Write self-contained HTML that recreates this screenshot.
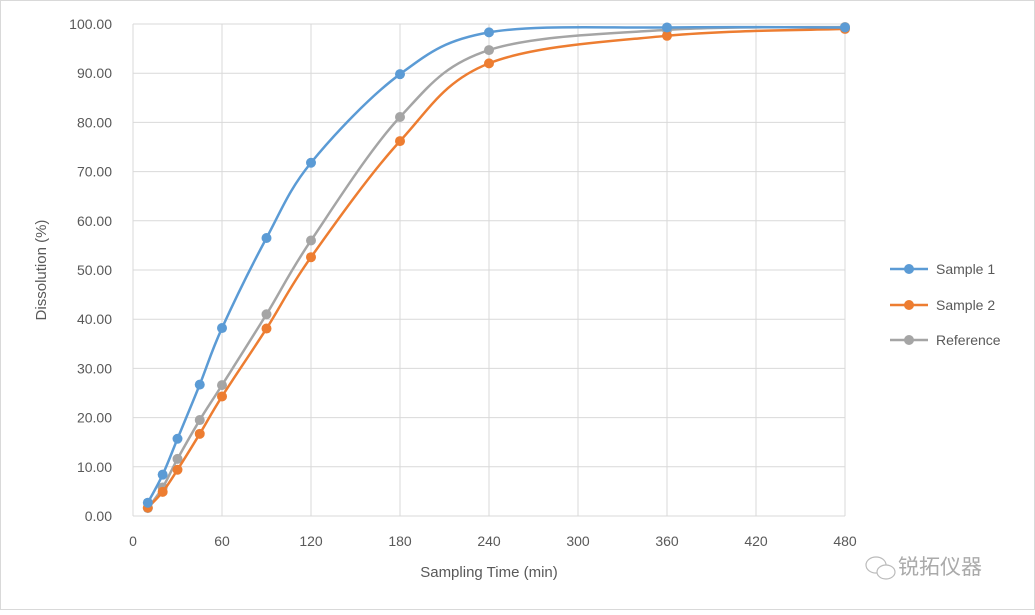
<!DOCTYPE html>
<html><head><meta charset="utf-8"><style>
html,body{margin:0;padding:0;background:#fff;}
svg text{font-family:"Liberation Sans","Noto Sans CJK SC",sans-serif;fill:#595959;}
</style></head><body>
<svg id="c" width="1035" height="610" xmlns="http://www.w3.org/2000/svg">
<rect x="0.5" y="0.5" width="1034" height="609" fill="#fff" stroke="#d9d9d9"/>
<g id="grid"></g>
<g id="series"></g>
<text x="46" y="270" font-size="15" text-anchor="middle" transform="rotate(-90 46 270)">Dissolution (%)</text>
<text x="489" y="577" font-size="15" text-anchor="middle">Sampling Time (min)</text>
<g font-size="14">
<line x1="890" y1="269" x2="928" y2="269" stroke="#5b9bd5" stroke-width="2.5"/><circle cx="909" cy="269" r="5" fill="#5b9bd5"/><text x="936" y="274">Sample 1</text>
<line x1="890" y1="305" x2="928" y2="305" stroke="#ed7d31" stroke-width="2.5"/><circle cx="909" cy="305" r="5" fill="#ed7d31"/><text x="936" y="310">Sample 2</text>
<line x1="890" y1="340" x2="928" y2="340" stroke="#a5a5a5" stroke-width="2.5"/><circle cx="909" cy="340" r="5" fill="#a5a5a5"/><text x="936" y="345">Reference</text>
</g>
<g transform="translate(866,558)" fill="none" stroke="#bbb" stroke-width="1.2">
<ellipse cx="10" cy="7" rx="10" ry="8"/><ellipse cx="20" cy="14" rx="9" ry="7" fill="#fff"/>
</g>
<text x="898" y="574" font-size="21" style="fill:#aaa">锐拓仪器</text>
</svg>
<script>
var X0=133,X1=845,Y0=516,Y1=24;
function px(t){return X0+(X1-X0)*t/480}
function py(v){return Y0-(Y0-Y1)*v/100}
var g=document.getElementById('grid'),s='';
for(var i=0;i<=10;i++){var y=py(i*10);s+='<line x1="'+X0+'" y1="'+y+'" x2="'+X1+'" y2="'+y+'" stroke="#d9d9d9"/>';
s+='<text x="112" y="'+(y+5)+'" font-size="14" text-anchor="end">'+(i*10).toFixed(2)+'</text>';}
for(var t=0;t<=480;t+=60){var x=px(t);s+='<line x1="'+x+'" y1="'+Y1+'" x2="'+x+'" y2="'+Y0+'" stroke="#d9d9d9"/>';
s+='<text x="'+x+'" y="546" font-size="14" text-anchor="middle">'+t+'</text>';}
g.innerHTML=s;
var T=[10,20,30,45,60,90,120,180,240,360,480];
var D=[["#a5a5a5",[1.6,5.8,11.6,19.5,26.6,41.0,56.0,81.1,94.7,98.8,99.4]],
["#ed7d31",[1.7,4.9,9.4,16.7,24.3,38.1,52.6,76.2,92.0,97.6,99.0]],
["#5b9bd5",[2.7,8.4,15.7,26.7,38.2,56.5,71.8,89.8,98.3,99.3,99.3]]];
var out='';
D.forEach(function(d){var p=T.map(function(t,i){return[px(t),py(d[1][i])]});
var path='M'+p[0][0]+','+p[0][1];
for(var i=0;i<p.length-1;i++){var a=p[i-1]||p[i],b=p[i],c=p[i+1],e=p[i+2]||c,k=1/6;
path+=' C'+(b[0]+(c[0]-a[0])*k)+','+(b[1]+(c[1]-a[1])*k)+' '+(c[0]-(e[0]-b[0])*k)+','+(c[1]-(e[1]-b[1])*k)+' '+c[0]+','+c[1];}
out+='<path d="'+path+'" fill="none" stroke="'+d[0]+'" stroke-width="2.5"/>';
p.forEach(function(q){out+='<circle cx="'+q[0]+'" cy="'+q[1]+'" r="5" fill="'+d[0]+'"/>'});});
document.getElementById('series').innerHTML=out;
</script>
</body></html>
